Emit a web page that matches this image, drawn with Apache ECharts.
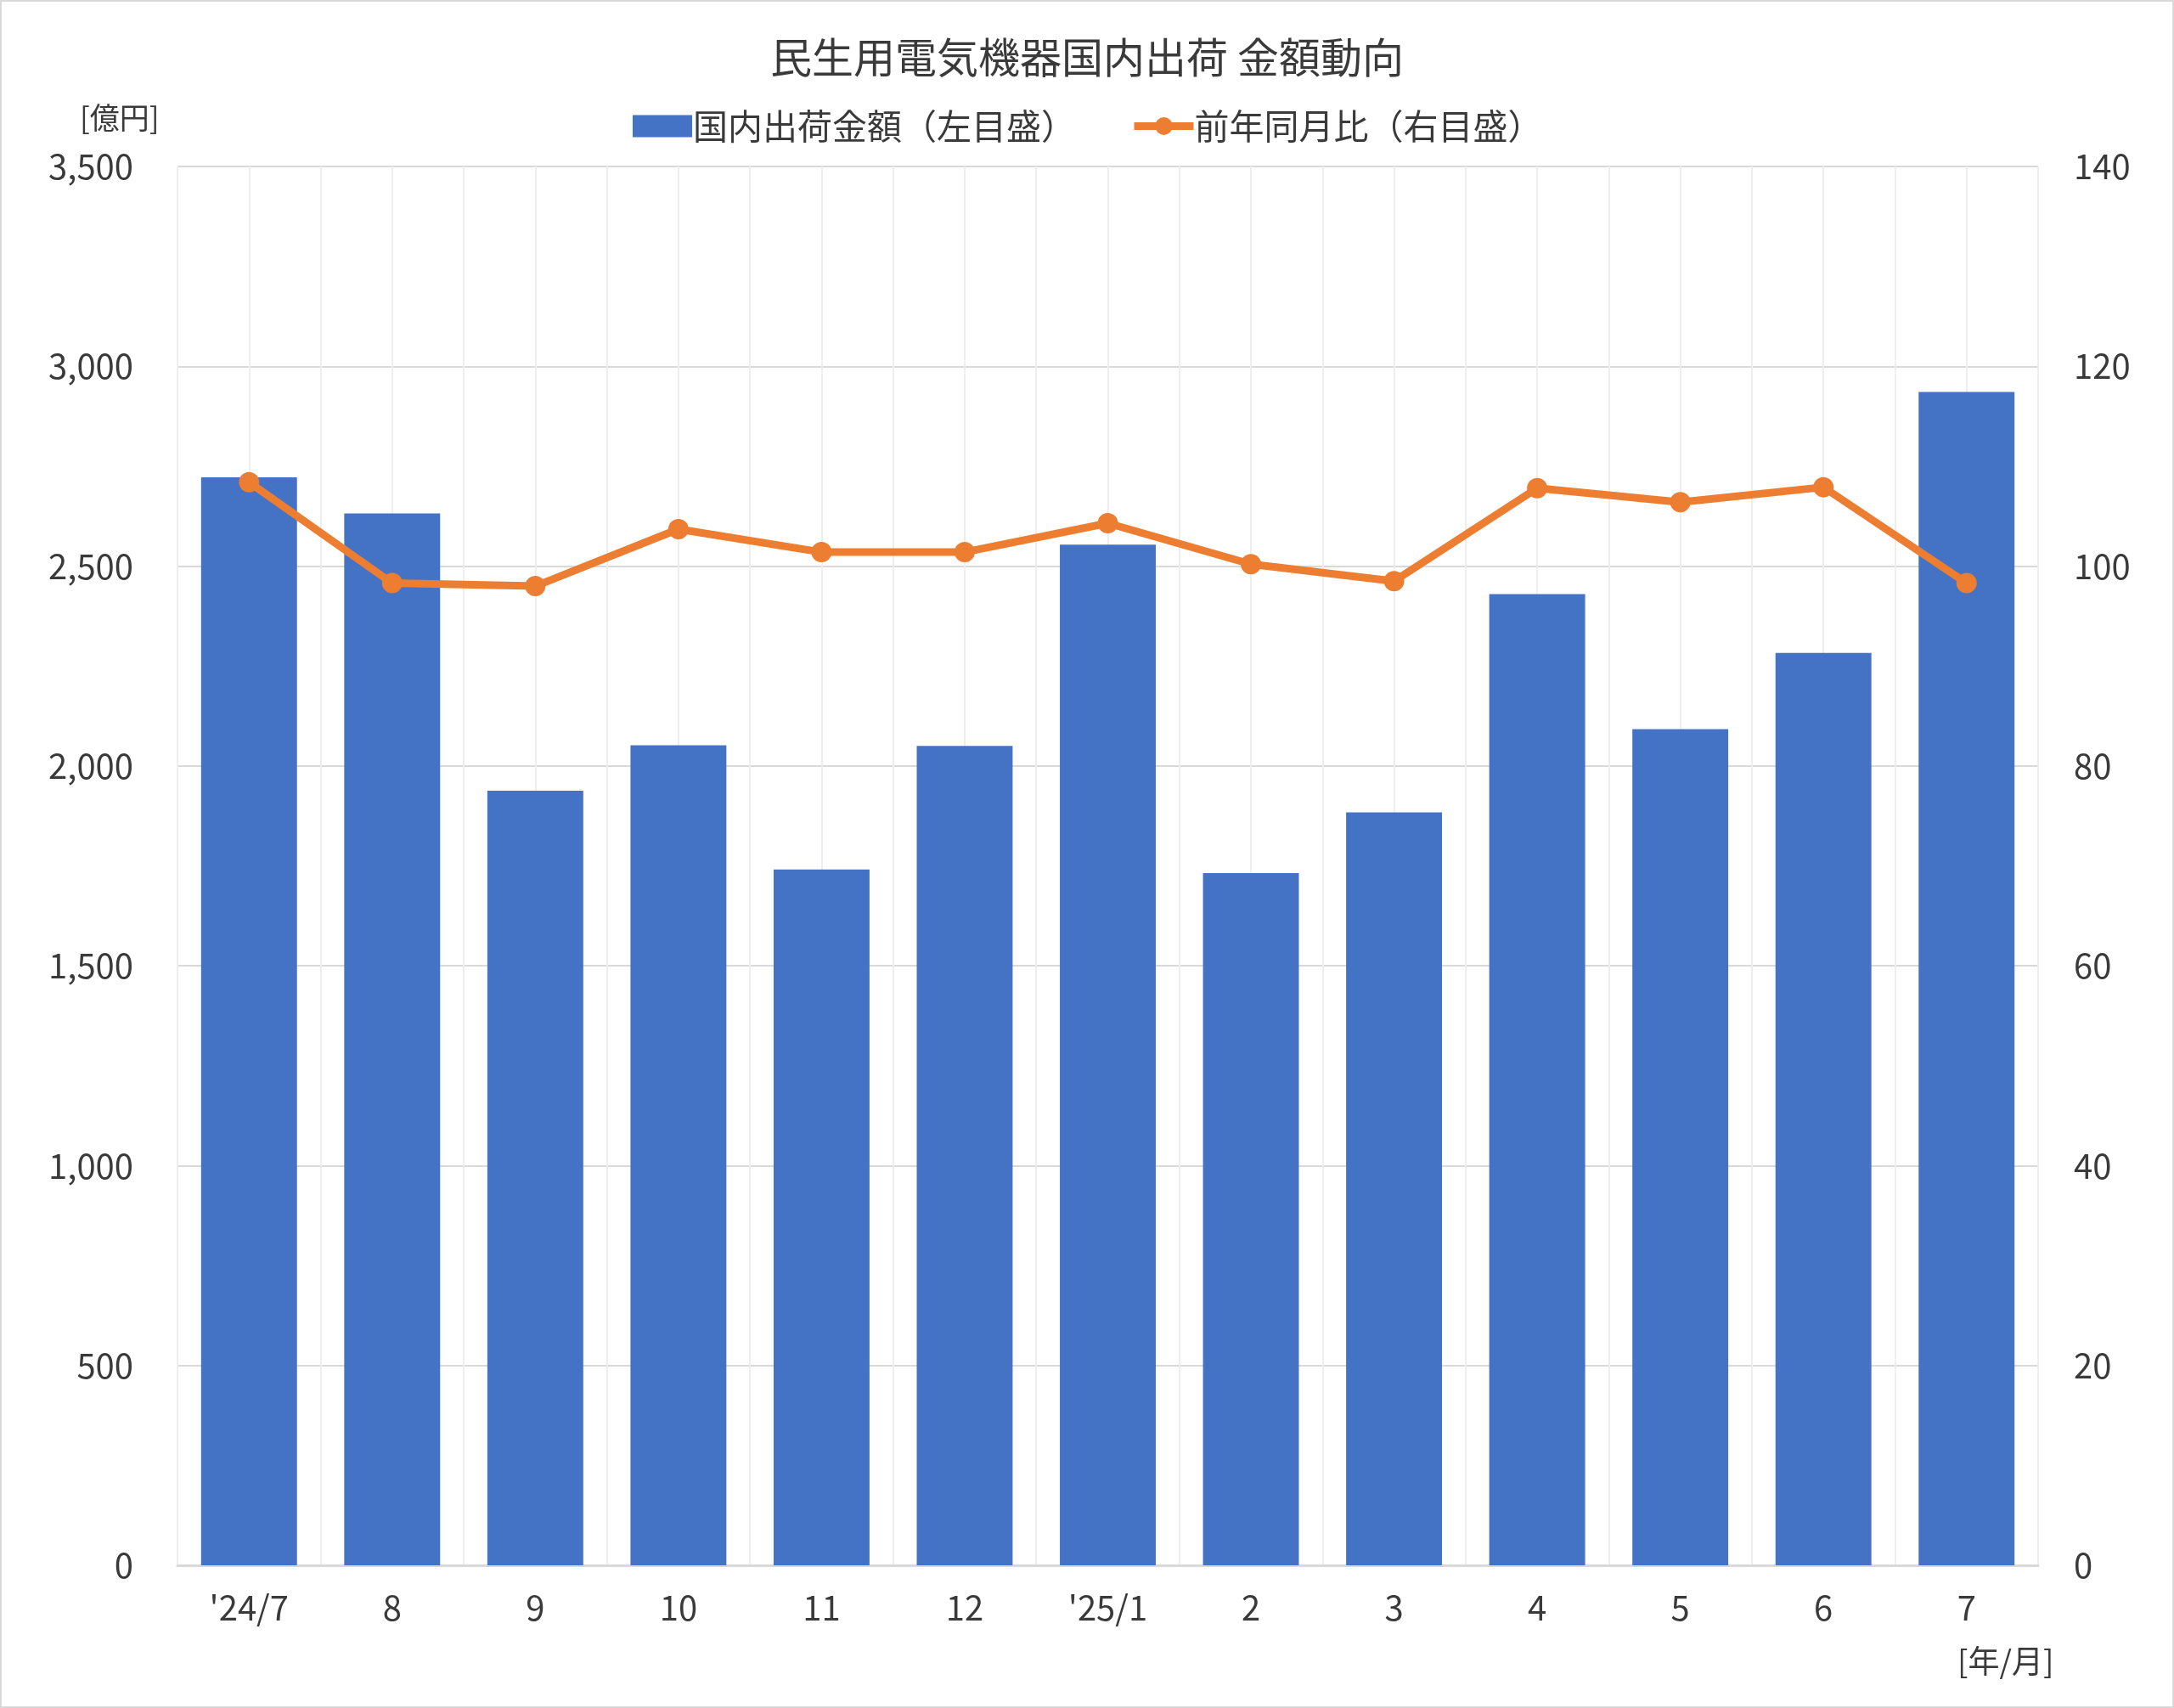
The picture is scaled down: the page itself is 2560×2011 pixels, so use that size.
<!DOCTYPE html>
<html>
<head>
<meta charset="utf-8">
<script src="https://cdn.jsdelivr.net/npm/echarts@6/dist/echarts.min.js"></script>
<style>
html,body{margin:0;padding:0;background:#fff;}
#c{width:2560px;height:2011px;box-sizing:border-box;border:2px solid #d9d9d9;}
</style>
</head>
<body>
<div id="c"></div>
<script>
const categories = ["'24/7","8","9","10","11","12","'25/1","2","3","4","5","6","7"];
const shipmentValues = [2722, 2632, 1938, 2052, 1741, 2050, 2554, 1732, 1884, 2430, 2092, 2283, 2936];
const yoyValues = [108.4, 98.3, 98.0, 103.7, 101.4, 101.4, 104.3, 100.2, 98.5, 107.8, 106.4, 107.9, 98.3];
const leftTicks = {min: 0, max: 3500, interval: 500};
const rightTicks = {min: 0, max: 140, interval: 20};

const FONT = '"Noto Sans CJK JP", "Noto Sans", sans-serif';
const TXT = '#3a3a3a';
const chart = echarts.init(document.getElementById('c'), null, {renderer: 'canvas'});
chart.setOption({
  backgroundColor: '#ffffff',
  animation: false,
  textStyle: {fontFamily: FONT, color: TXT},
  title: {
    text: '民生用電気機器国内出荷 金額動向',
    left: 'center', top: 36,
    textStyle: {fontFamily: FONT, fontSize: 49, fontWeight: 'normal', color: TXT}
  },
  legend: {
    top: 121, left: 738,
    itemGap: 64,
    itemWidth: 70, itemHeight: 26,
    textStyle: {fontFamily: FONT, fontSize: 41, color: TXT, padding: [0,0,0,-4]},
    data: [
      {name: '国内出荷金額（左目盛）', icon: 'rect'},
      {name: '前年同月比（右目盛）', lineStyle: {width: 9}}
    ]
  },
  graphic: [
    {type: 'text', left: 92, top: 119, style: {text: '[億円]', font: '35px ' + FONT, fill: TXT}},
    {type: 'text', left: 2303, top: 1935, style: {text: '[年/月]', font: '37px ' + FONT, fill: TXT}}
  ],
  grid: {left: 207, right: 158, top: 194, bottom: 166, containLabel: false},
  xAxis: [
    {
      type: 'category', data: categories, boundaryGap: true,
      axisLine: {show: true, lineStyle: {color: '#d9d9d9', width: 3}},
      axisTick: {show: false},
      splitLine: {show: false},
      axisLabel: {fontFamily: FONT, fontSize: 40, color: TXT, margin: 30}
    },
    {
      type: 'value', min: 0, max: categories.length, interval: 0.5,
      position: 'top', show: true,
      axisLine: {show: false}, axisTick: {show: false}, axisLabel: {show: false},
      splitLine: {show: true, lineStyle: {color: '#eeeeee', width: 2}}
    }
  ],
  yAxis: [
    {
      type: 'value', min: leftTicks.min, max: leftTicks.max, interval: leftTicks.interval,
      axisLine: {show: false}, axisTick: {show: false},
      splitLine: {show: true, lineStyle: {color: '#d9d9d9', width: 2}},
      axisLabel: {fontFamily: FONT, fontSize: 40, color: TXT, margin: 52,
        formatter: v => v.toLocaleString('en-US')}
    },
    {
      type: 'value', min: rightTicks.min, max: rightTicks.max, interval: rightTicks.interval,
      position: 'right',
      axisLine: {show: false}, axisTick: {show: false},
      splitLine: {show: false},
      axisLabel: {fontFamily: FONT, fontSize: 40, color: TXT, margin: 42}
    }
  ],
  series: [
    {
      name: '国内出荷金額（左目盛）', type: 'bar', xAxisIndex: 0, yAxisIndex: 0,
      data: shipmentValues, barWidth: '67%',
      itemStyle: {color: '#4472C4'}, z: 2
    },
    {
      name: '前年同月比（右目盛）', type: 'line', xAxisIndex: 0, yAxisIndex: 1,
      data: yoyValues, symbol: 'circle', symbolSize: 24,
      lineStyle: {color: '#ED7D31', width: 9},
      itemStyle: {color: '#ED7D31'}, z: 3
    }
  ]
});
</script>
</body>
</html>
